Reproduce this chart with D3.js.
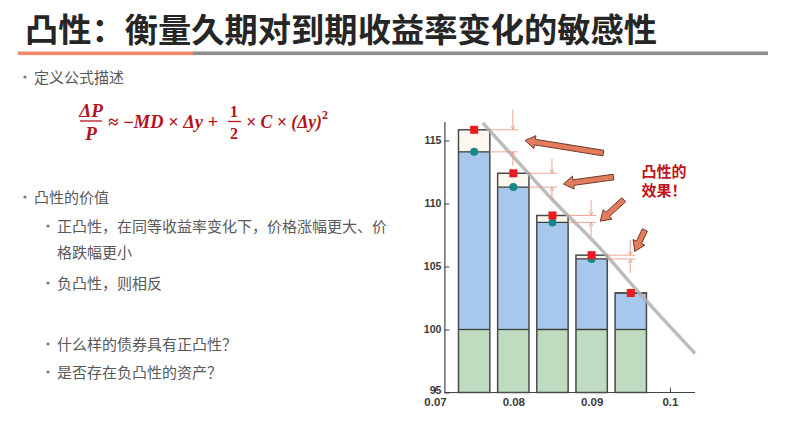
<!DOCTYPE html>
<html>
<head>
<meta charset="utf-8">
<script src="https://cdn.jsdelivr.net/npm/d3@7"></script>
<style>
  body { margin: 0; background: #fff; }
  svg { display: block; }
</style>
</head>
<body>
<svg width="800" height="440"></svg>
<script>
// bond price vs yield: bars at each yield
const yields = [0.075, 0.08, 0.085, 0.09, 0.095]
const actualPrice = [115.85, 112.4, 109.05, 105.9, 102.9]     // red squares (with convexity)
const durationPrice = [114.1, 111.3, 108.5, 105.6, 102.9]     // teal dots (duration only)
const basePrice = 100
const floorPrice = 95

// gray price-yield curve
const curveYield = [0.0761, 0.0819, 0.0847, 0.0913, 0.0958, 0.1032]
const curvePrice = [116.4, 112.4, 110.5, 106.3, 103.1, 98.1]

const xTicks = [0.07, 0.08, 0.09, 0.1]
const yTicks = [95, 100, 105, 110, 115]

// big orange arrows, [yield, price] of tail and head
const arrowTail = [[0.0915, 114.0], [0.0928, 112.1], [0.0941, 110.3], [0.0968, 107.9]]
const arrowHead = [[0.0815, 115.0], [0.0864, 111.55], [0.0911, 108.6], [0.0955, 106.2]]

const titleText = "凸性：衡量久期对到期收益率变化的敏感性"
const bulletTexts = ["定义公式描述", "凸性的价值",
  "正凸性，在同等收益率变化下，价格涨幅更大、价", "格跌幅更小", "负凸性，则相反",
  "什么样的债券具有正凸性？", "是否存在负凸性的资产？"]
const bulletLevel = [1, 1, 2, 0, 2, 2, 2]
const noteLines = ["凸性的", "效果！"]

let svg = d3.select("svg")
const cjk = "'Noto Sans CJK SC', 'Noto Sans', sans-serif"

// ---- title ----
svg.append("text")
  .attr("x", 25).attr("y", 42)
  .attr("textLength", 632).attr("lengthAdjust", "spacingAndGlyphs")
  .style("font-family", cjk).style("font-weight", "bold")
  .style("font-size", "33px").style("fill", "#262626")
  .text(titleText)

svg.append("rect").attr("x", 18).attr("y", 51.5).attr("width", 175).attr("height", 3.6)
  .style("fill", "#ef8a6b")
svg.append("rect").attr("x", 193).attr("y", 51.5).attr("width", 575).attr("height", 3.6)
  .style("fill", "#8c8c8c")

// ---- bullet text ----
const lineY = [76, 196, 225, 251, 282, 343, 371]
bulletTexts.forEach((t, i) => {
  let lvl = bulletLevel[i]
  let tx = lvl === 1 ? 34 : 57
  if (lvl > 0) {
    svg.append("circle")
      .attr("cx", lvl === 1 ? 25 : 48).attr("cy", lineY[i] + 1).attr("r", 1.6)
      .style("fill", "#7a7a7a")
  }
  svg.append("text")
    .attr("x", tx).attr("y", lineY[i])
    .attr("dominant-baseline", "central")
    .style("font-family", cjk).style("font-size", "15px").style("fill", "#595959")
    .text(t)
})

// ---- formula ----
const fRed = "#b3141c"
let formula = svg.append("g")
  .style("font-family", "'Liberation Serif', 'DejaVu Serif', serif")
  .style("font-weight", "bold").style("font-style", "italic")
  .style("fill", fRed)

formula.append("text").attr("x", 91).attr("y", 116.5).attr("text-anchor", "middle")
  .style("font-size", "19px").text("ΔP")
formula.append("line").attr("x1", 80).attr("x2", 102).attr("y1", 121).attr("y2", 121)
  .style("stroke", fRed).style("stroke-width", 1.3)
formula.append("text").attr("x", 91).attr("y", 139.5).attr("text-anchor", "middle")
  .style("font-size", "19px").text("P")

formula.append("text").attr("x", 108).attr("y", 128)
  .attr("textLength", 110).attr("lengthAdjust", "spacingAndGlyphs")
  .style("font-size", "18px").text("≈ −MD × Δy +")
formula.append("text").attr("x", 234).attr("y", 117).attr("text-anchor", "middle")
  .style("font-size", "16px").style("font-style", "normal").text("1")
formula.append("line").attr("x1", 228).attr("x2", 241).attr("y1", 121.5).attr("y2", 121.5)
  .style("stroke", fRed).style("stroke-width", 1.3)
formula.append("text").attr("x", 234).attr("y", 138.5).attr("text-anchor", "middle")
  .style("font-size", "16px").style("font-style", "normal").text("2")
formula.append("text").attr("x", 246).attr("y", 128)
  .attr("textLength", 76).attr("lengthAdjust", "spacingAndGlyphs")
  .style("font-size", "18px").text("× C × (Δy)")
formula.append("text").attr("x", 322).attr("y", 119)
  .style("font-size", "12px").style("font-style", "normal").text("2")

// ---- chart ----
let x = d3.scaleLinear().domain([0.07, 0.1032]).range([435, 695])
let y = d3.scaleLinear().domain([95, 116.5]).range([392.5, 121.6])
const axisX0 = x(0.0712)
const barW = x(0.074) - x(0.07)

let xAxis = svg.append("g")
  .attr("transform", `translate(0,${y(floorPrice)})`)
  .call(d3.axisBottom(x).tickValues(xTicks).tickFormat(d => d3.format("")(d))
    .tickSize(-5).tickSizeOuter(0).tickPadding(5))
xAxis.select(".domain").remove()
svg.append("line")
  .attr("x1", axisX0).attr("x2", x(0.1032))
  .attr("y1", y(floorPrice)).attr("y2", y(floorPrice))
  .style("stroke", "#444").style("stroke-width", 1.2)

let yAxis = svg.append("g")
  .attr("transform", `translate(${axisX0},0)`)
  .call(d3.axisLeft(y).tickValues(yTicks).tickSize(-5).tickSizeOuter(0).tickPadding(3))
yAxis.select(".domain").style("stroke", "#444").style("stroke-width", 1.2)
// lift the bottom label a little off the x labels
yAxis.selectAll(".tick text").filter(d => d === floorPrice).attr("dy", "0.05em")

svg.selectAll(".tick line").style("stroke", "#444")
svg.selectAll(".tick text")
  .style("font-family", "'Liberation Sans', Arial, sans-serif")
  .style("font-weight", "bold").style("font-size", "10.5px").style("fill", "#3a3a3a")
xAxis.selectAll(".tick text").style("font-size", "11.5px")

// bars: green base, blue duration part, cream convexity part
let bars = svg.append("g")
yields.forEach((yl, i) => {
  let bx = x(yl) - barW / 2
  bars.append("rect")
    .attr("x", bx).attr("y", y(basePrice)).attr("width", barW)
    .attr("height", y(floorPrice) - y(basePrice))
    .style("fill", "#bfdcc0")
  bars.append("rect")
    .attr("x", bx).attr("y", y(durationPrice[i])).attr("width", barW)
    .attr("height", y(basePrice) - y(durationPrice[i]))
    .style("fill", "#a7c7ec")
  bars.append("rect")
    .attr("x", bx).attr("y", y(actualPrice[i])).attr("width", barW)
    .attr("height", y(durationPrice[i]) - y(actualPrice[i]))
    .style("fill", "#fcf7ef")
  ;[basePrice, durationPrice[i]].forEach(v => {
    bars.append("line")
      .attr("x1", bx).attr("x2", bx + barW).attr("y1", y(v)).attr("y2", y(v))
      .style("stroke", "#3d3d3d").style("stroke-width", 1.3)
  })
  bars.append("rect")
    .attr("x", bx).attr("y", y(actualPrice[i])).attr("width", barW)
    .attr("height", y(floorPrice) - y(actualPrice[i]))
    .style("fill", "none").style("stroke", "#4a4a4a").style("stroke-width", 1.5)
})

// gray curve
svg.append("path")
  .datum(curveYield.map((d, i) => [d, curvePrice[i]]))
  .attr("d", d3.line().x(d => x(d[0])).y(d => y(d[1])).curve(d3.curveMonotoneX))
  .style("fill", "none").style("stroke", "#b0b0b0").style("stroke-width", 3.5)
  .style("opacity", 0.85)

// dimension marks showing the gap
svg.append("defs").append("marker")
  .attr("id", "dim").attr("viewBox", "0 0 6 6").attr("refX", 6).attr("refY", 3)
  .attr("markerWidth", 5).attr("markerHeight", 5).attr("orient", "auto")
  .append("path").attr("d", "M0,0 L6,3 L0,6").style("fill", "none")
  .style("stroke", "#e99583").style("stroke-width", 1)

let dims = svg.append("g").style("stroke", "#eb9c8a").style("stroke-width", 0.9)
yields.forEach((yl, i) => {
  if (actualPrice[i] - durationPrice[i] < 0.1) return
  let xr = x(yl) + barW / 2
  let ya = y(actualPrice[i]), yd = y(durationPrice[i])
  ;[ya, yd].forEach(v => {
    dims.append("line").attr("x1", xr).attr("x2", xr + 28).attr("y1", v).attr("y2", v)
  })
  dims.append("line").attr("x1", xr + 23).attr("x2", xr + 23)
    .attr("y1", ya - (i === 0 ? 20 : 15)).attr("y2", ya).attr("marker-end", "url(#dim)")
  dims.append("line").attr("x1", xr + 23).attr("x2", xr + 23)
    .attr("y1", yd + 14).attr("y2", yd).attr("marker-end", "url(#dim)")
})

// markers
yields.forEach((yl, i) => {
  svg.append("circle")
    .attr("cx", x(yl)).attr("cy", y(durationPrice[i])).attr("r", 4)
    .style("fill", "#17878a")
  svg.append("rect")
    .attr("x", x(yl) - 4).attr("y", y(actualPrice[i]) - 4)
    .attr("width", 8).attr("height", 8)
    .style("fill", "#ea1a1f")
})

// big orange arrows
arrowTail.forEach((t, i) => {
  let tx = x(t[0]), ty = y(t[1])
  let hx = x(arrowHead[i][0]), hy = y(arrowHead[i][1])
  let len = Math.hypot(hx - tx, hy - ty)
  let ux = (hx - tx) / len, uy = (hy - ty) / len
  let nx = -uy, ny = ux
  let w = 2.8, hw = 6.5, hl = 10
  let bx = hx - ux * hl, by = hy - uy * hl
  let pts = [
    [tx + nx * w, ty + ny * w], [bx + nx * w, by + ny * w], [bx + nx * hw, by + ny * hw],
    [hx, hy],
    [bx - nx * hw, by - ny * hw], [bx - nx * w, by - ny * w], [tx - nx * w, ty - ny * w]
  ]
  svg.append("polygon")
    .attr("points", pts.map(p => p.join(",")).join(" "))
    .style("fill", "#e27c5c").style("stroke", "#6e3b2b").style("stroke-width", 1)
})

// note text
noteLines.forEach((t, i) => {
  svg.append("text")
    .attr("x", 664).attr("y", 177 + i * 19)
    .attr("text-anchor", "middle")
    .style("font-family", cjk).style("font-weight", "bold")
    .style("font-size", "15px").style("fill", "#c0121c")
    .text(t)
})
</script>
</body>
</html>
